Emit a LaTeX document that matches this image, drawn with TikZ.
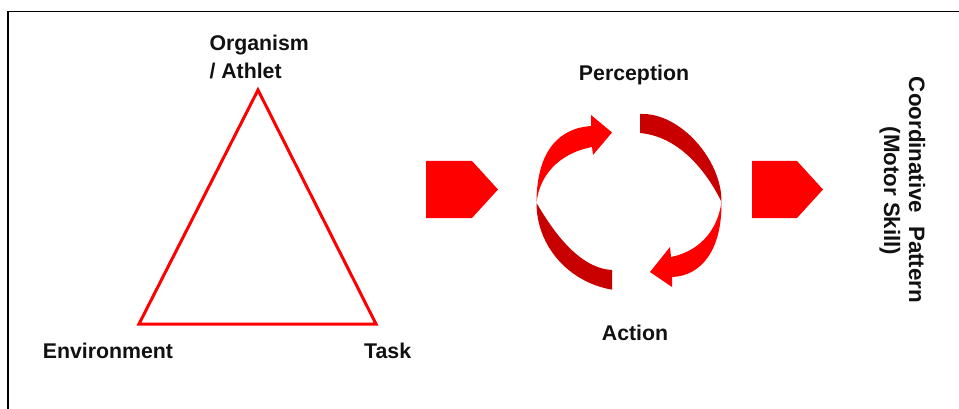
\documentclass[tikz,border=0pt]{standalone}
\usepackage{fontspec}
\setmainfont{Liberation Sans}
\definecolor{ribbonred}{RGB}{255,0,0}
\definecolor{ribbondark}{RGB}{200,0,0}
\definecolor{labelink}{RGB}{17,17,17}
\begin{document}
\begin{tikzpicture}[x=1pt,y=-1pt,
  lbl/.style={font=\bfseries\fontsize{21.3}{25}\selectfont, inner sep=0pt, text=labelink},
  vlbl/.style={font=\bfseries\fontsize{22.3}{26}\selectfont, inner sep=0pt, text=labelink, rotate=-90, anchor=base},
  frameline/.style={draw=black, line width=1.5pt},
  triline/.style={draw=ribbonred, line width=3pt, line join=miter},
  flowtag/.style={fill=ribbonred},
  front/.style={fill=ribbonred},
  back/.style={fill=ribbondark}
]
\useasboundingbox (0,0) rectangle (959,409);

% outer frame (open to the right and bottom)
\draw[frameline] (8,409) -- (8,11.5) -- (959,11.5);

% triangle of constraints
\coordinate (apex) at (258,90);
\coordinate (envc) at (139,324);
\coordinate (taskc) at (376,324);
\draw[triline] (apex) -- (envc) -- (taskc) -- cycle;

\node[lbl, anchor=base west] (org) at (209.3,50.7) {Organism};
\node[lbl, anchor=base west] (ath) at (209.3,79) {/ Athlet};
\node[lbl, anchor=base west] (env) at (42.7,358.3) {Environment};
\node[lbl, anchor=base west] (task) at (364,358.3) {Task};

% flow tags
\fill[flowtag] (426,161) -- (472,161) -- (498,189.5) -- (472,218) -- (426,218) -- cycle;
\fill[flowtag] (752,161) -- (797,161) -- (823,189.5) -- (797,218) -- (752,218) -- cycle;

% perception-action cycle: two twisted ribbon arrows
% left arrow, lower (back) half
\fill[back] (628,203) ++(100:91.5 and 88)
  arc[start angle=100, end angle=180, x radius=91.5, y radius=88]
  .. controls (548,222) and (575,268) .. (612,270) -- cycle;
% left arrow, upper (front) half with head
\fill[front] (536.5,203) .. controls (536.5,150) and (560,128) .. (591,126)
  -- (591,115) -- (612,132.5) -- (593,155) -- (592,147)
  .. controls (565,152) and (540,170) .. (536.5,203) -- cycle;
% right arrow, upper (back) half
\fill[back] (640,114) .. controls (680,112) and (722,160) .. (721.5,202)
  .. controls (712,182) and (685,137) .. (640,133) -- cycle;
% right arrow, lower (front) half with head
\fill[front] (721.5,202) .. controls (722,252) and (700,276) .. (672,277)
  -- (672,287) -- (650,272) -- (670,247) -- (671,257)
  .. controls (696,252) and (717,234) .. (721.5,202) -- cycle;

\node[lbl, anchor=base] (perc) at (634,81) {Perception};
\node[lbl, anchor=base] (act) at (635,340) {Action};

% outcome
\node[vlbl] (coord) at (909,190) {Coordinative\hspace{0.3em} Pattern};
\node[vlbl] (motor) at (884,191) {(Motor Skill)};
\end{tikzpicture}
\end{document}
